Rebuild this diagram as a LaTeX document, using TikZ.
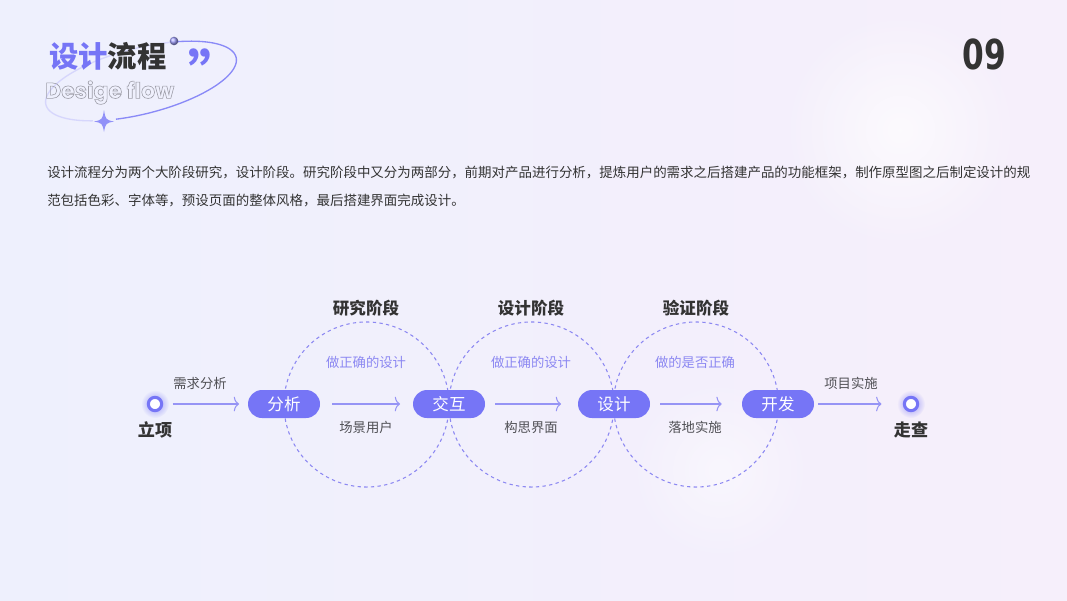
\documentclass[tikz,border=0pt]{standalone}
\usepackage{fontspec}
\setmainfont{Noto Sans CJK SC}
\newfontfamily\numfont{DejaVu Sans Condensed}
\newfontfamily\enfont{Poppins}
\usetikzlibrary{arrows.meta,fadings}
\tikzfading[name=glowfade, inner color=transparent!0, outer color=transparent!100]
\definecolor{pur}{RGB}{118,117,246}
\definecolor{purl}{RGB}{140,136,242}
\definecolor{purline}{RGB}{150,148,245}
\definecolor{txt}{RGB}{51,51,51}
\definecolor{lbl}{RGB}{80,80,85}
\definecolor{bgl}{RGB}{238,240,253}
\definecolor{bgr}{RGB}{246,239,251}
\tikzset{
  pill/.style={fill=pur, rounded corners=10.5pt, minimum width=54pt, minimum height=21pt, inner sep=0pt, text=white, font=\fontsize{12.4}{12.4}\selectfont},
  enddot/.style={circle, fill=white, draw=pur, line width=2.3pt, minimum size=10pt, inner sep=0pt},
  flowarrow/.style={draw=purline, line width=0.8pt, -{To[length=4pt,width=11pt]}},
  stagecircle/.style={draw=purl, dashed, dash pattern=on 2.5pt off 2.5pt, line width=0.8pt},
  stagetitle/.style={text=txt, font=\bfseries\fontsize{12.4}{12.4}\selectfont},
  subtitle/.style={text=purl, font=\fontsize{10}{10}\selectfont},
  steplabel/.style={text=lbl, font=\fontsize{10}{10}\selectfont},
  endlabel/.style={text=txt, font=\bfseries\fontsize{12.8}{12.8}\selectfont},
  para/.style={text=txt, anchor=west, inner sep=0pt, font=\fontsize{10.1}{10.1}\selectfont}
}
\begin{document}
\begin{tikzpicture}[x=0.75pt,y=-0.75pt]
\useasboundingbox (0,0) rectangle (1067,600);
% background
\shade[left color=bgl, right color=bgr] (0,0) rectangle (1067,600);
\fill[white, path fading=glowfade, opacity=0.7] (900,130) circle (90pt);
\fill[white, path fading=glowfade, opacity=0.5] (720,470) circle (70pt);

% title block: tilted ellipse
\draw[pur!30, line width=1pt, variable=\t, domain=125:295, samples=60, smooth]
  plot ({141 + 98*cos(\t)*cos(14) + 33*sin(\t)*sin(14)}, {81 - 98*cos(\t)*sin(14) + 33*sin(\t)*cos(14)});
\draw[pur!85, line width=1pt, variable=\t, domain=-65:110, samples=60, smooth]
  plot ({141 + 98*cos(\t)*cos(14) + 33*sin(\t)*sin(14)}, {81 - 98*cos(\t)*sin(14) + 33*sin(\t)*cos(14)});
\shade[ball color=pur!70] (174,41) circle (3.2pt);
\fill[pur!80] (104,110) .. controls (105.5,119.5) and (106,120) .. (114,121.5)
  .. controls (106,123) and (105.5,123.5) .. (104,132)
  .. controls (102.5,123.5) and (102,123) .. (94,121.5)
  .. controls (102,120) and (102.5,119.5) .. (104,110) -- cycle;
\node[anchor=west, inner sep=0pt, text height=16pt, text depth=2pt, font=\bfseries\fontsize{22}{22}\selectfont] (title) at (49,58) {\textcolor{pur}{设计}\textcolor{txt}{流程}};
\node[inner sep=0pt, text height=14pt, text depth=0pt, text=pur, font=\bfseries\fontsize{40}{40}\selectfont] (quote) at (215,85) {”};
\node[anchor=west, inner sep=0pt, text height=11pt, text depth=3pt, font=\enfont\bfseries\fontsize{16.5}{16.5}\selectfont, text=gray!80] (en) at (45,93)
  {\special{pdf:literal direct 1 Tr 0.45 w 0.62 0.62 0.66 RG}Desige flow\special{pdf:literal direct 0 Tr}};

\node[text=txt, font=\numfont\bfseries\fontsize{31}{31}\selectfont, inner sep=0pt, xscale=0.84] (num) at (984,54) {09};

% paragraph
\node[para] (p1) at (47,173) {设计流程分为两个大阶段研究，设计阶段。研究阶段中又分为两部分，前期对产品进行分析，提炼用户的需求之后搭建产品的功能框架，制作原型图之后制定设计的规};
\node[para] (p2) at (47,200) {范包括色彩、字体等，预设页面的整体风格，最后搭建界面完成设计。};

% stage circles
\draw[stagecircle] (366.5,404.5) circle (61.9pt);
\draw[stagecircle] (531.5,404.5) circle (61.9pt);
\draw[stagecircle] (696,404.5) circle (61.9pt);

\node[stagetitle] (t1) at (366,308) {研究阶段};
\node[stagetitle] (t2) at (531,308) {设计阶段};
\node[stagetitle] (t3) at (696,308) {验证阶段};
\node[subtitle] (u1) at (366,362) {做正确的设计};
\node[subtitle] (u2) at (531,362) {做正确的设计};
\node[subtitle] (u3) at (695,362) {做的是否正确};

% flow
\fill[pur, path fading=glowfade, opacity=0.7] (155,404) circle (10.5pt);
\fill[pur, path fading=glowfade, opacity=0.7] (911,404) circle (10.5pt);
\node[enddot] (s) at (155,404) {};
\node[enddot] (e) at (911,404) {};
\node[endlabel] (sl) at (155,430) {立项};
\node[endlabel] (el) at (911,430) {走查};

\node[pill] (a) at (284,404) {分析};
\node[pill] (b) at (449,404) {交互};
\node[pill] (c) at (614,404) {设计};
\node[pill] (d) at (778,404) {开发};

\draw[flowarrow, shorten <=7pt, shorten >=6.5pt] (s) -- (a);
\draw[flowarrow, shorten <=9pt, shorten >=9.5pt] (a) -- (b);
\draw[flowarrow, shorten <=7.5pt, shorten >=12.5pt] (b) -- (c);
\draw[flowarrow, shorten <=7.5pt, shorten >=15pt] (c) -- (d);
\draw[flowarrow, shorten <=3pt, shorten >=16pt] (d) -- (e);

\node[steplabel] (l1) at (200,383) {需求分析};
\node[steplabel] (l2) at (366,427) {场景用户};
\node[steplabel] (l3) at (531,427) {构思界面};
\node[steplabel] (l4) at (695,427) {落地实施};
\node[steplabel] (l5) at (851,383) {项目实施};
\end{tikzpicture}
\end{document}
